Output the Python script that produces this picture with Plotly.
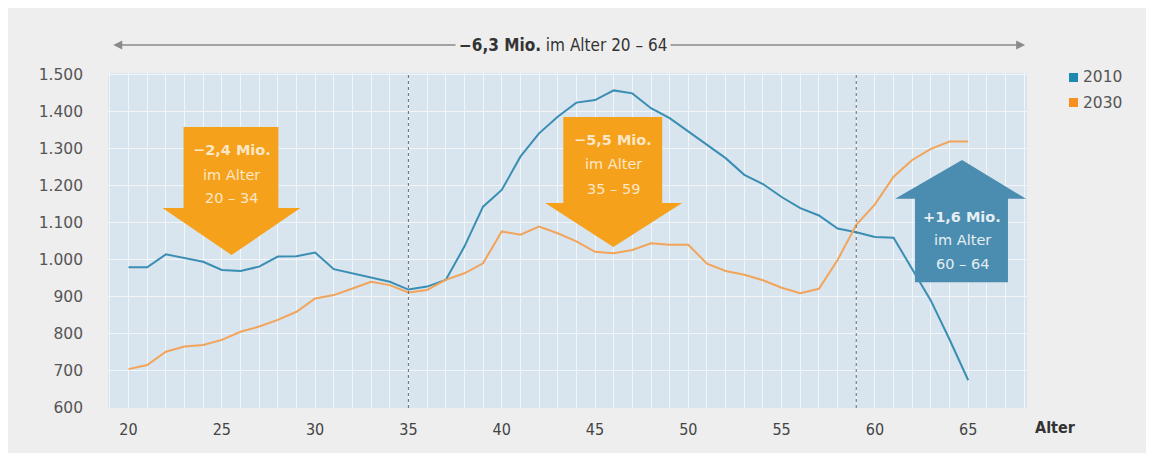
import plotly.graph_objects as go

ages = list(range(20, 66))
pop_2010 = [980, 980, 1015, 1005, 995, 973, 970, 982, 1009, 1010,
            1020, 975, 964, 953, 941, 920, 928, 946, 1036, 1144,
            1189, 1279, 1342, 1387, 1425, 1432, 1458, 1450, 1410, 1383,
            1347, 1310, 1275, 1230, 1205, 1170, 1140, 1120, 1085, 1075,
            1062, 1060, 975, 890, 785, 675]
pop_2030 = [705, 716, 752, 766, 770, 784, 806, 820, 838, 860,
            896, 905, 923, 941, 932, 912, 919, 946, 964, 991,
            1077, 1068, 1090, 1072, 1050, 1022, 1018, 1027, 1045, 1041,
            1041, 990, 970, 960, 945, 925, 910, 922, 1000, 1095,
            1150, 1225, 1270, 1300, 1320, 1320]
series_names = ["2010", "2030"]
x_ticks = [20, 25, 30, 35, 40, 45, 50, 55, 60, 65]
y_ticks = [600, 700, 800, 900, 1000, 1100, 1200, 1300, 1400, 1500]
y_tick_text = ["600", "700", "800", "900", "1.000", "1.100", "1.200", "1.300", "1.400", "1.500"]

BLUE_LINE = "#3a8db3"
ORANGE_LINE = "#f2a45a"
BLUE_KEY = "#1d88b0"
ORANGE_KEY = "#f7901e"
ARROW_ORANGE = "#f5a11c"
ARROW_BLUE = "#4a8db0"
PAGE_BG = "#eeeeee"
NARROW = "Liberation Sans Narrow, DejaVu Sans Condensed, Liberation Sans, sans-serif"
SANS = "DejaVu Sans, Verdana, sans-serif"

fig = go.Figure()
fig.add_trace(go.Scatter(x=ages, y=pop_2010, mode="lines", name=series_names[0],
                         line=dict(color=BLUE_LINE, width=2), showlegend=False))
fig.add_trace(go.Scatter(x=ages, y=pop_2030, mode="lines", name=series_names[1],
                         line=dict(color=ORANGE_LINE, width=2), showlegend=False))

shapes = []
for xv in (35, 59):
    shapes.append(dict(type="line", xref="x", yref="paper", x0=xv, x1=xv, y0=0, y1=1,
                       line=dict(color="#6a6a6a", width=1, dash="dot"), layer="above"))


def down_arrow(xl, xr, hl, hr, tipx, top, neck, tip):
    return (f"M {xl},{top} L {xr},{top} L {xr},{neck} L {hr},{neck} L {tipx},{tip} "
            f"L {hl},{neck} L {xl},{neck} Z")


def up_arrow(xl, xr, hl, hr, tipx, bottom, neck, tip):
    return (f"M {xl},{bottom} L {xr},{bottom} L {xr},{neck} L {hr},{neck} L {tipx},{tip} "
            f"L {hl},{neck} L {xl},{neck} Z")


shapes.append(dict(type="path", xref="x", yref="y", layer="above",
                   path=down_arrow(22.95, 28.03, 21.82, 29.21, 25.52, 1359, 1140, 1013),
                   fillcolor=ARROW_ORANGE, line=dict(width=0)))
shapes.append(dict(type="path", xref="x", yref="y", layer="above",
                   path=down_arrow(43.30, 48.60, 42.33, 49.67, 45.98, 1386, 1154, 1035),
                   fillcolor=ARROW_ORANGE, line=dict(width=0)))
shapes.append(dict(type="path", xref="x", yref="y", layer="above",
                   path=up_arrow(62.15, 67.13, 61.08, 68.1, 64.67, 940, 1165, 1270),
                   fillcolor=ARROW_BLUE, line=dict(width=0)))

# legend keys
shapes.append(dict(type="rect", xref="paper", yref="paper", x0=1.0457, x1=1.0555,
                   y0=0.9731, y1=1.0, fillcolor=BLUE_KEY, line=dict(width=0)))
shapes.append(dict(type="rect", xref="paper", yref="paper", x0=1.0457, x1=1.0555,
                   y0=0.8985, y1=0.9254, fillcolor=ORANGE_KEY, line=dict(width=0)))

annotations = []
annotations.append(dict(xref="x", yref="paper", x=68.05, y=1.0836, axref="x", ayref="pixel",
                        ax=19.1, ay=0, text="", showarrow=True, arrowside="end+start",
                        arrowhead=2, arrowsize=1.2, arrowwidth=1.5, arrowcolor="#8a8a8a"))
annotations.append(dict(xref="x", yref="paper", x=43.3, y=1.0836, yanchor="middle", showarrow=False,
                        text="<b>−6,3 Mio.</b> im Alter 20 – 64", bgcolor=PAGE_BG, borderpad=3,
                        font=dict(family=NARROW, size=17, color="#333333")))


def arrow_text(x, ys, lines, color):
    for yv, t in zip(ys, lines):
        annotations.append(dict(xref="x", yref="y", x=x, y=yv, text=t, showarrow=False,
                                yanchor="middle",
                                font=dict(family=SANS, size=14.5, color=color)))


arrow_text(25.52, [1298, 1230, 1166], ["<b>−2,4 Mio.</b>", "im Alter", "20 – 34"], "#fde7c6")
arrow_text(45.98, [1325, 1258, 1192], ["<b>−5,5 Mio.</b>", "im Alter", "35 – 59"], "#fde7c6")
arrow_text(64.67, [1116, 1054, 989], ["<b>+1,6 Mio.</b>", "im Alter", "60 – 64"], "#e6eef3")

annotations.append(dict(xref="paper", yref="paper", x=1.0588, y=0.9866, xanchor="left",
                        yanchor="middle", text=series_names[0], showarrow=False,
                        font=dict(family=SANS, size=15.5, color="#555555")))
annotations.append(dict(xref="paper", yref="paper", x=1.0588, y=0.9119, xanchor="left",
                        yanchor="middle", text=series_names[1], showarrow=False,
                        font=dict(family=SANS, size=15.5, color="#555555")))
annotations.append(dict(xref="paper", yref="paper", x=1.0555, y=-0.0597, text="<b>Alter</b>",
                        yanchor="middle", showarrow=False,
                        font=dict(family=NARROW, size=16, color="#333333")))

fig.update_layout(
    width=1154, height=453,
    margin=dict(l=100, r=135, t=65, b=53),
    paper_bgcolor=PAGE_BG,
    plot_bgcolor="#d8e5ee",
    shapes=shapes,
    annotations=annotations,
    showlegend=False,
    xaxis=dict(range=[18.9, 68.15], tickvals=x_ticks, ticktext=[str(v) for v in x_ticks],
               showgrid=True, gridcolor="#f2f6f9", gridwidth=1.3,
               minor=dict(dtick=1, tick0=0, showgrid=True, gridcolor="#f2f6f9", gridwidth=1.3),
               zeroline=False, showline=False, ticks="", ticklabelstandoff=10,
               tickfont=dict(family=NARROW, size=16, color="#444444")),
    yaxis=dict(range=[600, 1505], tickvals=y_ticks, ticktext=y_tick_text,
               showgrid=True, gridcolor="#f2f6f9", gridwidth=1.3,
               zeroline=False, showline=False, ticks="", ticklabelstandoff=24,
               tickfont=dict(family=SANS, size=15.5, color="#555555")),
)

fig.write_html("out.html")
